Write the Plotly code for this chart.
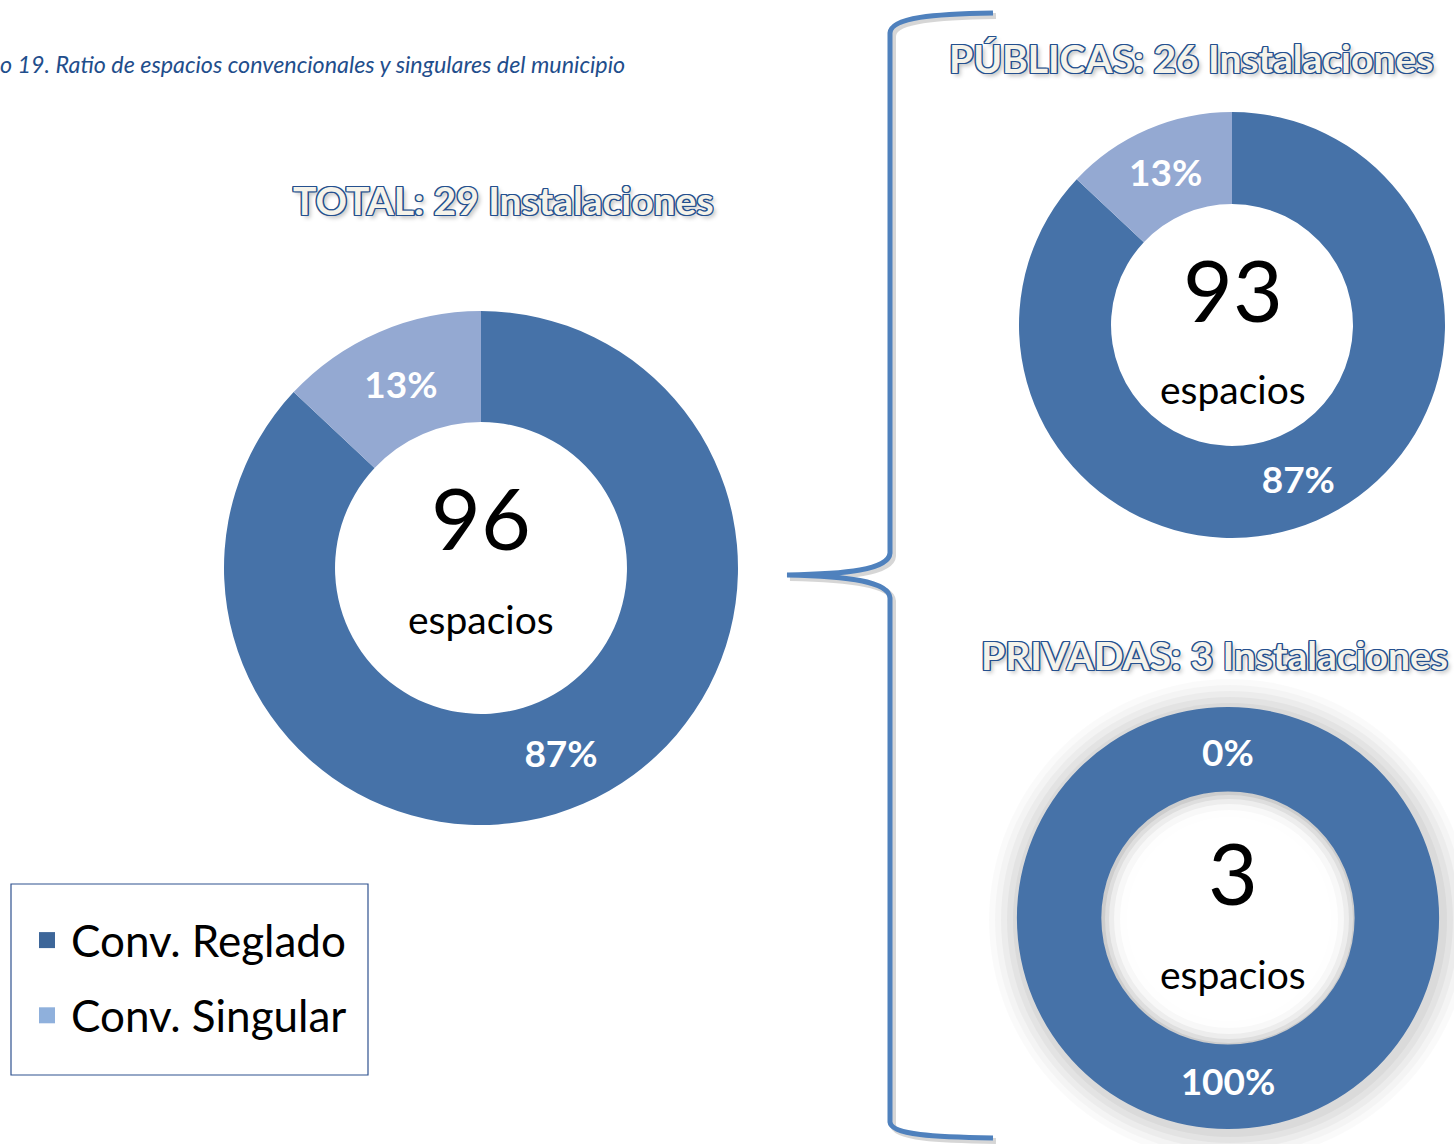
import plotly.graph_objects as go

# ---------------- data ----------------
categories = ["Conv. Reglado", "Conv. Singular"]
groups = ["TOTAL", "PÚBLICAS", "PRIVADAS"]
instalaciones = [29, 26, 3]
espacios = [96, 93, 3]
total_pct = [87, 13]
publicas_pct = [87, 13]
privadas_pct = [100, 0]
caption = "o 19. Ratio de espacios convencionales y singulares del municipio"

# ---------------- style ----------------
W, H = 1454, 1144
C_DARK = "#4672a8"
C_LIGHT = "#94a9d2"
FONT = "Lato"
OUTLINE = "#24508f"

def px(x):
    return x / W

def py(y):
    return 1 - y / H

def domain(cx, cy, r):
    return dict(x=[px(cx - r), px(cx + r)], y=[py(cy + r), py(cy - r)])

fig = go.Figure()

pies = [
    (total_pct, 481, 568, 257, 0.568),
    (publicas_pct, 1232, 325, 213, 0.568),
    (privadas_pct, 1228, 918, 211, 0.60),
]
for vals, cx, cy, r, hole in pies:
    fig.add_trace(go.Pie(
        labels=categories, values=vals, hole=hole, sort=False,
        direction="clockwise", rotation=0,
        marker=dict(colors=[C_DARK, C_LIGHT], line=dict(width=0)),
        texttemplate="%{value}%", textposition="inside",
        insidetextorientation="horizontal",
        textfont=dict(family=FONT, size=37, color="white", weight="bold"),
        domain=domain(cx, cy, r), showlegend=False, hoverinfo="label+value",
    ))

# legend entries
for i, (cat, col) in enumerate(zip(categories, ["#3d6699", "#8fb0dc"])):
    fig.add_trace(go.Scatter(
        x=[None], y=[None], mode="markers", name=cat, legendgroup=cat,
        marker=dict(symbol="square", size=16, color=col),
    ))

ann = []
def text(x, y, t, size, color="black", weight="normal", style="normal",
         xanchor="center", shadow=None):
    f = dict(family=FONT, size=size, color=color, weight=weight, style=style)
    if shadow:
        f["shadow"] = shadow
    ann.append(dict(x=px(x), y=py(y), xref="paper", yref="paper", text=t,
                    showarrow=False, xanchor=xanchor, yanchor="middle", font=f))

# caption
text(-2, 64, caption, 23.3, color="#1f4e8c", style="italic", xanchor="left")

# outlined titles
o = 1.2
outline = ", ".join(f"{dx}px {dy}px 0 {OUTLINE}" for dx, dy in
                    [(o, 0), (-o, 0), (0, o), (0, -o), (o, o), (-o, -o), (o, -o), (-o, o)])
outline += ", 3px 3px 4px rgba(0,0,0,0.25)"
title_pos = [(503, 200), (1191, 58), (1214, 655)]
for g, n, (tx, ty) in zip(groups, instalaciones, title_pos):
    text(tx, ty, f"{g}: {n} Instalaciones", 39, color="#f5f3ea", weight="bold",
         shadow=outline)

# center labels
centers = [(481, 516, 619), (1233, 288, 389), (1233, 872, 974)]
for e, (cx, ny, ey) in zip(espacios, centers):
    text(cx, ny, str(e), 86)
    text(cx, ey, "espacios", 39)

# 0% label of the empty slice in PRIVADAS
text(1228, 752, f"{privadas_pct[1]}%", 37, color="white", weight="bold")

# ---------------- shapes ----------------
shapes = []

def circle(cx, cy, r, fill, layer="below"):
    shapes.append(dict(type="circle", xref="paper", yref="paper",
                       x0=px(cx - r), x1=px(cx + r), y0=py(cy + r), y1=py(cy - r),
                       fillcolor=fill, line=dict(width=0), layer=layer))

# soft shadow around the PRIVADAS donut
for dr, a in [(30, 0.02), (24, 0.025), (18, 0.03), (12, 0.035), (6, 0.04)]:
    circle(1230, 920, 211 + dr, f"rgba(0,0,0,{a})")
# soft inner shadow of the hole
circle(1228, 918, 127, "rgba(0,0,0,0.06)")
for rr, a in [(124, 0.35), (120, 0.45), (115, 0.6), (109, 0.8), (102, 1.0)]:
    circle(1229, 919, rr, f"rgba(255,255,255,{a})")

# curly brace
def P(x, y):
    return f"{px(x):.5f},{py(y):.5f}"

def brace_path(d):
    return (f"M {P(993+d,13+d)} C {P(935+d,14+d)} {P(891+d,17+d)} {P(890+d,33+d)} "
            f"L {P(890+d,553+d)} C {P(889+d,570+d)} {P(845+d,574+d)} {P(787+d,575+d)} "
            f"C {P(845+d,576+d)} {P(889+d,581+d)} {P(890+d,598+d)} L {P(890+d,1122+d)} "
            f"C {P(891+d,1135+d)} {P(935+d,1137+d)} {P(993+d,1138+d)}")

shapes.append(dict(type="path", path=brace_path(3), xref="paper", yref="paper",
                   line=dict(color="rgba(0,0,0,0.16)", width=6), layer="below"))
shapes.append(dict(type="path", path=brace_path(0), xref="paper", yref="paper",
                   line=dict(color="#4f81bd", width=5), layer="below"))

# legend box
shapes.append(dict(type="rect", xref="paper", yref="paper",
                   x0=px(11), x1=px(368), y0=py(1075), y1=py(884),
                   line=dict(color="#2f528f", width=1.2), fillcolor="rgba(0,0,0,0)"))

fig.update_layout(
    width=W, height=H,
    margin=dict(l=0, r=0, t=0, b=0),
    paper_bgcolor="white", plot_bgcolor="white",
    xaxis=dict(visible=False), yaxis=dict(visible=False),
    showlegend=True,
    legend=dict(x=px(23), y=py(905), xanchor="left", yanchor="top",
                font=dict(family=FONT, size=44, color="black"),
                bgcolor="rgba(0,0,0,0)", tracegroupgap=15,
                itemsizing="trace", itemwidth=38),
    annotations=ann, shapes=shapes,
)

fig.write_html("out.html", config={"displayModeBar": False},
               post_script="document.body.style.margin='0px';"
                           "document.body.style.overflow='hidden';")
